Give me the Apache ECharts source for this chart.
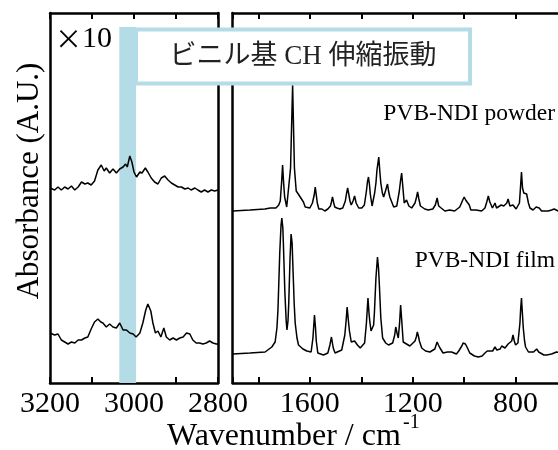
<!DOCTYPE html>
<html>
<head>
<meta charset="utf-8">
<script src="https://cdn.jsdelivr.net/npm/echarts@6/dist/echarts.min.js"></script>
<style>
html,body{margin:0;padding:0;background:#fff;}
#c{width:558px;height:450px;}
</style>
</head>
<body>
<div id="c"></div>
<script>
// ---- data: [wavenumber (cm^-1), absorbance (arb. units)] ----
const powderCH = [[3200,195],[3197,196],[3189,193],[3181,196],[3173,193],[3165,196],[3157,194],[3149,197],[3141,193],[3133,196],[3125,201],[3117,199],[3110,200],[3102,198],[3094,202],[3086,213],[3078,218],[3071,212],[3066,215],[3058,210],[3050,214],[3042,210],[3034,214],[3026,216],[3020,219],[3016,216],[3010,227],[3005,221],[3000,211],[2994,206],[2986,211],[2981,210],[2973,215],[2967,211],[2959,205],[2951,201],[2943,199],[2935,205],[2927,207],[2919,203],[2911,200],[2903,198],[2895,196],[2887,196],[2879,194],[2871,195],[2864,193],[2855,195],[2848,193],[2840,191],[2832,193],[2824,191],[2816,193],[2808,192],[2800,193]];
const filmCH = [[3200,50],[3197,50],[3189,48],[3181,49],[3173,43],[3165,41],[3157,39],[3149,41],[3141,40],[3133,43],[3125,43],[3117,45],[3110,46],[3102,54],[3094,61],[3086,64],[3079,61],[3074,60],[3066,56],[3058,59],[3050,56],[3042,55],[3034,60],[3026,53],[3018,53],[3010,50],[3002,49],[2995,46],[2986,50],[2979,60],[2972,73],[2967,79],[2960,72],[2955,60],[2949,50],[2943,52],[2936,46],[2929,55],[2923,46],[2915,43],[2907,45],[2899,43],[2891,45],[2883,46],[2875,50],[2867,49],[2860,43],[2852,40],[2844,40],[2836,39],[2828,40],[2820,42],[2812,40],[2804,39],[2800,39]];
const powderFP = [[1900,172],[1833,173],[1775,174],[1754,175],[1748,176],[1732,175],[1721,178],[1715,182],[1710,200],[1706,218],[1702,200],[1698,186],[1690,176],[1683,178],[1675,215],[1667,298],[1660,215],[1653,192],[1645,189],[1635,185],[1625,181],[1618,176],[1600,175],[1590,180],[1583,188],[1579,196],[1575,188],[1571,180],[1565,174],[1553,174],[1542,172],[1530,174],[1520,177],[1516,181],[1512,186],[1507,180],[1503,176],[1495,175],[1483,174],[1472,175],[1462,182],[1457,190],[1453,195],[1448,188],[1444,182],[1439,178],[1432,182],[1426,187],[1420,180],[1410,175],[1398,175],[1388,178],[1380,192],[1376,201],[1372,206],[1368,198],[1365,189],[1358,177],[1348,190],[1343,200],[1339,213],[1332,226],[1328,212],[1324,200],[1318,190],[1313,186],[1306,192],[1298,199],[1294,192],[1289,186],[1274,176],[1262,177],[1252,192],[1247,203],[1243,210],[1238,195],[1233,180],[1224,183],[1215,177],[1204,175],[1191,180],[1185,186],[1181,191],[1176,184],[1170,177],[1165,175],[1153,174],[1140,173],[1122,174],[1112,178],[1105,185],[1099,177],[1094,175],[1075,172],[1056,173],[1037,172],[1017,176],[1007,182],[1000,186],[994,183],[987,183],[980,178],[974,173],[954,173],[932,172],[919,175],[912,181],[906,187],[900,181],[890,175],[884,177],[880,180],[874,175],[867,173],[856,178],[851,180],[846,177],[841,175],[834,180],[829,184],[822,177],[816,175],[810,178],[805,180],[798,174],[792,173],[785,180],[781,195],[777,211],[773,195],[768,190],[762,189],[757,189],[750,180],[744,175],[732,173],[720,176],[714,178],[708,175],[699,172],[673,172],[660,173],[650,174],[634,172],[600,172]];
const filmFP = [[1900,29],[1833,30],[1774,31],[1748,36],[1735,41],[1728,55],[1724,73],[1717,130],[1712,158],[1709,165],[1705,155],[1703,140],[1697,90],[1692,62],[1689,53],[1685,62],[1682,80],[1677,125],[1673,149],[1669,140],[1665,110],[1661,80],[1657,60],[1650,45],[1644,38],[1627,34],[1612,32],[1595,31],[1588,45],[1582,68],[1578,55],[1575,42],[1569,30],[1547,28],[1530,30],[1522,38],[1516,46],[1509,35],[1502,30],[1476,33],[1464,48],[1459,62],[1455,76],[1450,62],[1446,52],[1439,41],[1426,42],[1415,38],[1404,35],[1387,40],[1380,60],[1374,85],[1370,70],[1367,62],[1362,52],[1358,50],[1352,58],[1349,70],[1343,105],[1337,126],[1333,115],[1330,100],[1324,65],[1317,45],[1305,40],[1294,38],[1278,40],[1270,48],[1266,56],[1261,50],[1256,45],[1251,60],[1247,78],[1242,60],[1237,41],[1224,39],[1211,37],[1191,42],[1186,46],[1182,51],[1177,46],[1174,42],[1165,35],[1150,32],[1133,31],[1114,34],[1109,38],[1105,41],[1100,38],[1094,35],[1082,30],[1065,31],[1049,31],[1030,29],[1021,32],[1009,37],[1004,40],[1000,41],[995,39],[989,36],[978,30],[960,27],[945,26],[930,27],[919,30],[910,32],[903,34],[889,32],[880,36],[873,33],[867,32],[860,34],[854,37],[847,35],[841,35],[829,39],[822,37],[815,42],[810,48],[805,42],[800,38],[791,40],[783,60],[780,75],[777,85],[774,72],[770,55],[765,42],[761,36],[750,31],[744,29],[730,31],[718,34],[710,31],[705,29],[690,28],[679,28],[660,29],[641,31],[620,30],[600,30]];

const leftTickLabels = [3200, 3000, 2800];
const rightTickLabels = [1600, 1200, 800];
const bandRange = [3035, 2995];

// ---- styling helpers ----
const BLACK = '#000';
const BAND = '#b3dce6';
const SERIF = "'Liberation Serif', 'Times New Roman', serif";
const axisLine = {show: true, onZero: false, lineStyle: {color: BLACK, width: 2.5}};
const tickIn = {show: true, inside: true, length: 6, lineStyle: {color: BLACK, width: 2}};

function xAx(grid, min, max, interval, pos, labels) {
  return {
    type: 'value', gridIndex: grid, min: min, max: max, interval: interval, inverse: true,
    position: pos, axisLine: axisLine, axisTick: tickIn, splitLine: {show: false},
    axisLabel: labels ? {
      show: true, margin: 6, color: BLACK, fontFamily: SERIF, fontSize: 30,
      showMinLabel: true, showMaxLabel: true,
      formatter: v => labels.includes(v) ? String(v) : ''
    } : {show: false}
  };
}
function yAx(grid, pos) {
  return {
    type: 'value', gridIndex: grid, min: 0, max: 370, position: pos,
    axisLine: axisLine, axisTick: {show: false}, axisLabel: {show: false}, splitLine: {show: false}
  };
}
function line(data, xi, yi, extra) {
  return Object.assign({
    type: 'line', data: data, xAxisIndex: xi, yAxisIndex: yi, showSymbol: false, symbol: 'none',
    lineStyle: {color: BLACK, width: 1.5}, silent: true, z: 3
  }, extra || {});
}

const chart = echarts.init(document.getElementById('c'), null, {renderer: 'canvas'});
chart.setOption({
  animation: false,
  backgroundColor: '#fff',
  grid: [
    {left: 50, top: 13, width: 168, height: 370, containLabel: false, outerBoundsMode: 'none'},
    {left: 232.7, top: 13, width: 334.3, height: 370, containLabel: false, outerBoundsMode: 'none'}
  ],
  xAxis: [
    xAx(0, 2800, 3200, 100, 'bottom', leftTickLabels),
    xAx(0, 2800, 3200, 100, 'top', null),
    xAx(1, 600, 1900, 200, 'bottom', rightTickLabels),
    xAx(1, 600, 1900, 200, 'top', null)
  ],
  yAxis: [yAx(0, 'left'), yAx(0, 'right'), yAx(1, 'left'), yAx(1, 'right')],
  series: [
    line(powderCH, 0, 0, {
      markArea: {
        silent: true,
        itemStyle: {color: BAND, opacity: 1},
        data: [[{xAxis: bandRange[0], yAxis: 0}, {xAxis: bandRange[1], yAxis: 356}]]
      }
    }),
    line(filmCH, 0, 0),
    line(powderFP, 2, 2),
    line(filmFP, 2, 2)
  ],
  graphic: [
    {type: 'rect', z: 100, shape: {x: 136, y: 29.5, width: 334, height: 54},
     style: {fill: '#fff', stroke: BAND, lineWidth: 4}},
    {type: 'text', z: 101, x: 303, y: 57,
     style: {text: 'ビニル基 CH 伸縮振動', fontFamily: SERIF + ", 'Noto Sans CJK JP'", fontSize: 27,
             fill: '#222', align: 'center', verticalAlign: 'middle'}},
    {type: 'text', z: 101, x: 55, y: 39,
     style: {text: '{a|×}{b|10}', verticalAlign: 'middle', align: 'left',
             rich: {a: {fontFamily: "'Noto Sans CJK JP'", fontSize: 27, fill: BLACK},
                    b: {fontFamily: SERIF, fontSize: 30, fill: BLACK}}}},
    {type: 'text', z: 101, x: 555, y: 114,
     style: {text: 'PVB-NDI powder', fontFamily: SERIF, fontSize: 23.5, fill: BLACK, align: 'right', verticalAlign: 'middle'}},
    {type: 'text', z: 101, x: 555, y: 261,
     style: {text: 'PVB-NDI film', fontFamily: SERIF, fontSize: 23.5, fill: BLACK, align: 'right', verticalAlign: 'middle'}},
    {type: 'text', z: 101, x: 30, y: 181, rotation: Math.PI / 2,
     style: {text: 'Absorbance (A.U.)', fontFamily: SERIF, fontSize: 31, fill: BLACK, align: 'center', verticalAlign: 'middle'}},
    {type: 'text', z: 101, x: 167, y: 437,
     style: {text: 'Wavenumber / cm', fontFamily: SERIF, fontSize: 32, fill: BLACK, align: 'left', verticalAlign: 'middle'}},
    {type: 'text', z: 101, x: 403, y: 423,
     style: {text: '-1', fontFamily: SERIF, fontSize: 20, fill: BLACK, align: 'left', verticalAlign: 'middle'}}
  ]
});
</script>
</body>
</html>
